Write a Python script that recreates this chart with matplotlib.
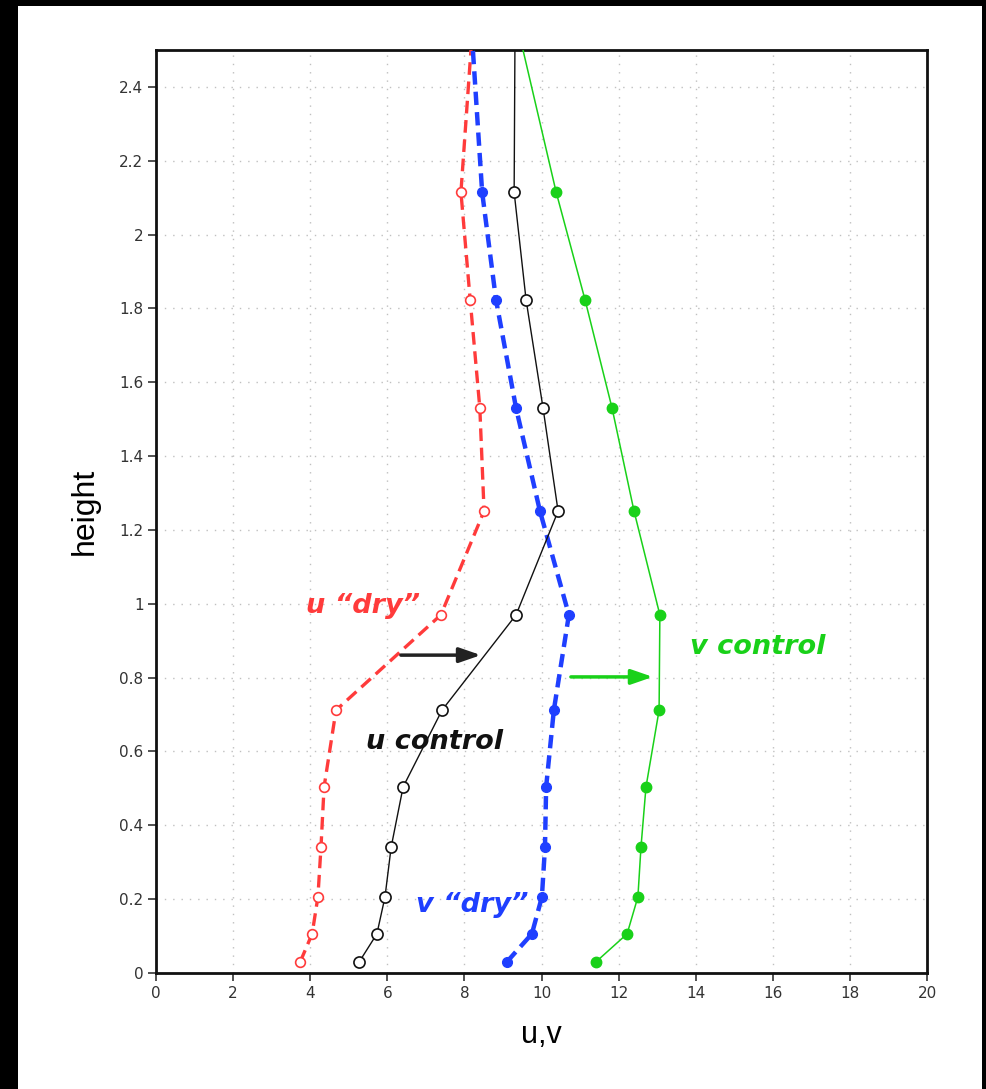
import matplotlib

matplotlib.use("Agg")

import matplotlib.pyplot as plt
from matplotlib.patches import Rectangle


# model levels (last one sits at the top edge of the plot)
height = [0.03, 0.106, 0.206, 0.341, 0.504, 0.712, 0.970, 1.251, 1.530, 1.823, 2.115, 2.50]

u_dry = [3.74, 4.05, 4.20, 4.28, 4.36, 4.67, 7.39, 8.51, 8.40, 8.15, 7.91, 8.17]
u_control = [5.27, 5.73, 5.94, 6.10, 6.41, 7.42, 9.34, 10.43, 10.04, 9.60, 9.29, 9.31]
v_dry = [9.10, 9.75, 10.01, 10.09, 10.12, 10.32, 10.71, 9.96, 9.34, 8.82, 8.46, 8.22]
v_control = [11.41, 12.22, 12.50, 12.58, 12.71, 13.05, 13.07, 12.40, 11.83, 11.13, 10.38, 9.52]

x_ticks = list(range(0, 21, 2))
y_ticks = [0, 0.2, 0.4, 0.6, 0.8, 1, 1.2, 1.4, 1.6, 1.8, 2, 2.2, 2.4]
y_ticklabels = ["0", "0.2", "0.4", "0.6", "0.8", "1", "1.2", "1.4", "1.6", "1.8", "2", "2.2", "2.4"]

RED = "#ff3b3b"
BLUE = "#1f3fff"
GREEN = "#19d119"

fig = plt.figure(figsize=(9.86, 10.89), dpi=100, facecolor="black")
# white page inside the black border
fig.patches.append(Rectangle((18 / 986, 0), (982 - 18) / 986, (1089 - 6) / 1089,
                             transform=fig.transFigure, facecolor="white", edgecolor="none", zorder=-10))

ax = fig.add_axes([0.1582, 0.1065, 0.7820, 0.8476])
ax.set_xlim(0, 20)
ax.set_ylim(0, 2.5)

ax.set_xticks(x_ticks)
ax.set_yticks(y_ticks)
ax.set_yticklabels(y_ticklabels)
ax.tick_params(direction="out", length=6, width=1.2, labelsize=11, colors="#333333", pad=3)
ax.grid(True, color="#c0c0c0", linestyle=(0, (1, 5)), linewidth=1.0)
for sp in ax.spines.values():
    sp.set_linewidth(2.0)
    sp.set_color("#111111")

marks = list(range(len(height) - 1))
ax.plot(u_dry, height, color=RED, linestyle=(0, (3.8, 2.0)), linewidth=2.4, marker="o",
        markevery=marks, markersize=7, markerfacecolor="white", markeredgecolor=RED,
        markeredgewidth=1.2, zorder=3)
ax.plot(v_dry, height, color=BLUE, linestyle=(0, (3, 1.6)), linewidth=3.2, marker="o",
        markevery=marks, markersize=7, markerfacecolor=BLUE, markeredgecolor=BLUE, zorder=3)
ax.plot(u_control, height, color="#111111", linewidth=1.0, marker="o", markevery=marks,
        markersize=8, markerfacecolor="white", markeredgecolor="#111111", markeredgewidth=1.2, zorder=4)
ax.plot(v_control, height, color=GREEN, linewidth=1.1, marker="o", markevery=marks,
        markersize=7.5, markerfacecolor=GREEN, markeredgecolor=GREEN, zorder=4)

# shift arrows dry -> control
ax.annotate("", xy=(8.50, 0.861), xytext=(6.28, 0.861),
            arrowprops=dict(arrowstyle="-|>,head_length=1.3,head_width=0.45", color="#222222", lw=2.5))
ax.annotate("", xy=(12.96, 0.802), xytext=(10.69, 0.802),
            arrowprops=dict(arrowstyle="-|>,head_length=1.3,head_width=0.45", color=GREEN, lw=2.5))

lab = dict(fontfamily="DejaVu Sans", fontweight="bold", fontstyle="italic",
           fontsize=19.5, va="center")
ax.text(3.9, 0.993, "u \u201cdry\u201d", color=RED, ha="left", **lab)
ax.text(13.85, 0.882, "v control", color=GREEN, ha="left", **lab)
ax.text(5.45, 0.625, "u control", color="#111111", ha="left", **lab)
ax.text(6.75, 0.183, "v \u201cdry\u201d", color=BLUE, ha="left", **lab)

ax.set_xlabel("u,v", fontsize=22, fontfamily=["Liberation Sans", "DejaVu Sans"], labelpad=14)
ax.set_ylabel("height", fontsize=23, fontfamily=["Liberation Sans", "DejaVu Sans"], labelpad=14)

fig.savefig("out.png", dpi=100, facecolor="black")
